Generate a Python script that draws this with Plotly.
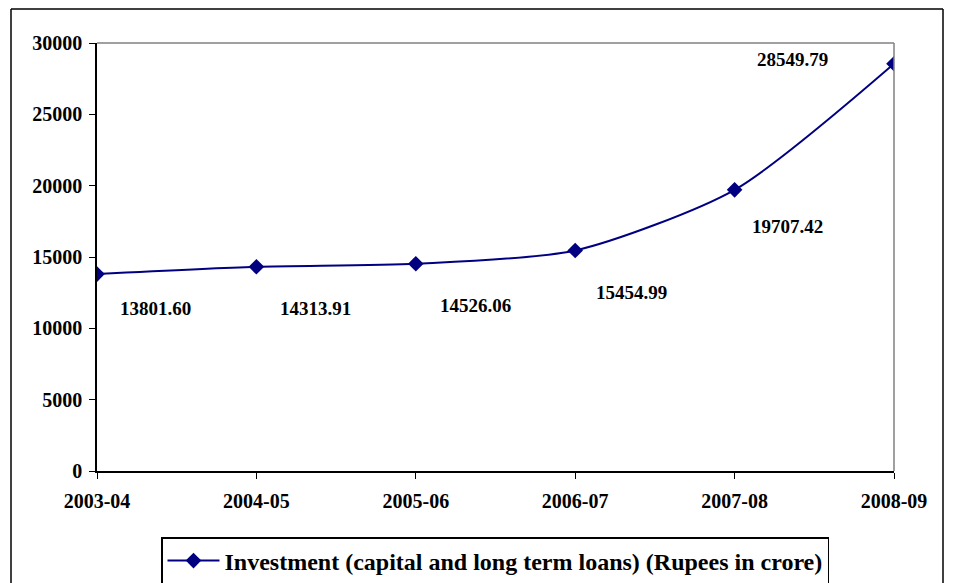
import plotly.graph_objects as go

years = ["2003-04", "2004-05", "2005-06", "2006-07", "2007-08", "2008-09"]
investment = [13801.60, 14313.91, 14526.06, 15454.99, 19707.42, 28549.79]
value_labels = ["13801.60", "14313.91", "14526.06", "15454.99", "19707.42", "28549.79"]
label_xshift = [58, 59, 60, 56, 53, -102]
label_yshift = [-34, -42, -42, -42, -37, 4]

FONT = "Liberation Serif"
NAVY = "#000080"
OFF = 8  # browser default body margin

fig = go.Figure()
fig.add_trace(go.Scatter(
    x=list(range(len(years))), y=investment,
    mode="lines+markers",
    line=dict(color=NAVY, width=2, shape="spline", smoothing=0.7),
    marker=dict(symbol="diamond", size=12, color=NAVY),
    name="<b>Investment (capital and long term loans) (Rupees in crore)</b>",
    showlegend=True,
))

for i, (v, t) in enumerate(zip(investment, value_labels)):
    fig.add_annotation(x=i, y=v, text=f"<b>{t}</b>", showarrow=False,
                       xshift=label_xshift[i], yshift=label_yshift[i],
                       font=dict(family=FONT, size=19, color="black"))

W, H = 953 - OFF, 583 - OFF
ml, mt = 97 - OFF, 43 - OFF
mr = W - (894 - OFF)
mb = H - (471 - OFF)
pw, ph = W - ml - mr, H - mt - mb

def px(x):
    return (x - OFF - ml) / pw

def py(y):
    return (H - mb - (y - OFF)) / ph

# outer chart frame (drawn as separate edges)
frame = dict(color="black", width=1.5)
fig.add_shape(type="line", xref="paper", yref="paper",
              x0=px(11), x1=px(11), y0=py(600), y1=py(9), line=frame)
fig.add_shape(type="line", xref="paper", yref="paper",
              x0=px(11), x1=px(943), y0=py(9), y1=py(9), line=frame)
fig.add_shape(type="line", xref="paper", yref="paper",
              x0=px(943), x1=px(943), y0=py(600), y1=py(9), line=frame)
# plot-area border (top/right grey)
fig.add_shape(type="line", xref="paper", yref="paper", x0=0, x1=1, y0=1, y1=1,
              line=dict(color="#808080", width=1.5))
fig.add_shape(type="line", xref="paper", yref="paper", x0=1, x1=1, y0=0, y1=1,
              line=dict(color="#808080", width=1.5))

fig.update_layout(
    width=W, height=H,
    margin=dict(l=ml, r=mr, t=mt, b=mb),
    paper_bgcolor="white", plot_bgcolor="white",
    font=dict(family=FONT, color="black"),
    xaxis=dict(
        range=[0, len(years) - 1],
        tickmode="array", tickvals=list(range(len(years))),
        ticktext=[f"<b>{y}</b>" for y in years],
        showgrid=False, zeroline=False,
        showline=True, linecolor="black", linewidth=1.5,
        ticks="outside", ticklen=6, tickcolor="black",
        ticklabelstandoff=5,
        tickfont=dict(family=FONT, size=20, color="black"),
    ),
    yaxis=dict(
        range=[0, 30000], tickmode="array",
        tickvals=[0, 5000, 10000, 15000, 20000, 25000, 30000],
        ticktext=[f"<b>{v}</b>" for v in [0, 5000, 10000, 15000, 20000, 25000, 30000]],
        showgrid=False, zeroline=False,
        showline=True, linecolor="black", linewidth=1.5,
        ticks="outside", ticklen=6, tickcolor="black",
        ticklabelstandoff=3,
        tickfont=dict(family=FONT, size=20, color="black"),
    ),
    legend=dict(
        orientation="h",
        xref="container", yref="container",
        x=(495 - OFF) / W, xanchor="center",
        y=1 - (537 - OFF) / H, yanchor="top",
        itemwidth=52,
        bordercolor="black", borderwidth=1.5, bgcolor="white",
        font=dict(family=FONT, size=24, color="black"),
    ),
)

fig.write_html("out.html")
